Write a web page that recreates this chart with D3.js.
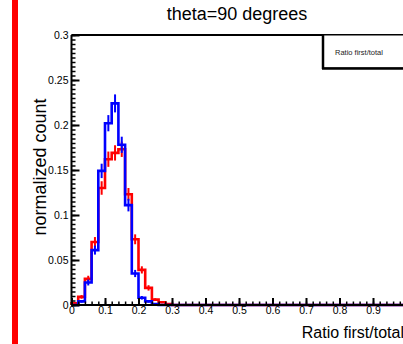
<!DOCTYPE html>
<meta charset="utf-8">
<style>
body { margin: 0; background: #fff; }
svg { display: block; font-family: "Liberation Sans", Arial, sans-serif; }
.axis path, .axis line { stroke: #000; stroke-width: 2px; }
.axis text { font-size: 10.5px; fill: #000; }
.minor line { stroke: #000; stroke-width: 1.5px; }
.hist { fill: none; stroke-width: 2.6px; }
.err { stroke-width: 2px; }
</style>
<body>
<script src="https://cdn.jsdelivr.net/npm/d3@7"></script>
<script>

// histogram: 50 bins on [0,1]
var binEdges = d3.range(0, 51).map(function(i) { return i / 50; });

var redVals = [0.002, 0.009, 0.029, 0.070, 0.130, 0.162, 0.169, 0.173, 0.123, 0.073,
               0.039, 0.019, 0.006, 0.003, 0.001, 0, 0, 0, 0, 0,
               0, 0, 0, 0, 0, 0, 0, 0, 0, 0,
               0, 0, 0, 0, 0, 0, 0, 0, 0, 0,
               0, 0, 0, 0, 0, 0, 0, 0, 0, 0];
var redErr  = [0.001, 0.002, 0.0035, 0.0055, 0.0075, 0.0085, 0.0085, 0.0085, 0.007, 0.0055,
               0.004, 0.003, 0.0015, 0.001, 0.0007];

var blueVals = [0, 0.004, 0.025, 0.061, 0.149, 0.202, 0.224, 0.178, 0.111, 0.035,
                0.008, 0.004, 0.001, 0, 0, 0, 0, 0, 0, 0,
                0, 0, 0, 0, 0, 0, 0, 0, 0, 0,
                0, 0, 0, 0, 0, 0, 0, 0, 0, 0,
                0, 0, 0, 0, 0, 0, 0, 0, 0, 0];
var blueErr  = [0, 0.0013, 0.0033, 0.005, 0.008, 0.009, 0.010, 0.009, 0.007, 0.004,
                0.002, 0.0013, 0.0007];

var xTicks = [0, 0.1, 0.2, 0.3, 0.4, 0.5, 0.6, 0.7, 0.8, 0.9];
var yTicks = [0, 0.05, 0.1, 0.15, 0.2, 0.25, 0.3];

var W = 403, H = 344;

var svg = d3.select("body").append("svg")
    .attr("width", W)
    .attr("height", H);

var x = d3.scaleLinear().domain([0, 1]).range([71.5, 406.5]);
var y = d3.scaleLinear().domain([0, 0.3]).range([305, 35]);

// red bar on the left edge
svg.append("rect")
    .attr("x", 12).attr("y", 0)
    .attr("width", 6).attr("height", H)
    .attr("fill", "#ff0000");

// title
svg.append("text")
    .attr("x", 237).attr("y", 20)
    .attr("text-anchor", "middle")
    .style("font-size", "18px")
    .text("theta=90 degrees");

// frame top line
svg.append("line")
    .attr("x1", x(0)).attr("x2", W)
    .attr("y1", y(0.3)).attr("y2", y(0.3))
    .attr("stroke", "#000").attr("stroke-width", 2);

// histograms as steps
function stepPath(vals) {
  var pts = [[x(0), y(0)]];
  vals.forEach(function(v, i) {
    pts.push([x(binEdges[i]), y(v)]);
    pts.push([x(binEdges[i + 1]), y(v)]);
  });
  return d3.line()(pts);
}

function drawHist(vals, errs, color) {
  svg.append("path")
      .attr("class", "hist")
      .attr("stroke", color)
      .attr("d", stepPath(vals));
  svg.selectAll(null)
      .data(errs.map(function(e, i) { return {i: i, v: vals[i], e: e}; })
                .filter(function(d) { return d.e > 0; }))
    .enter().append("line")
      .attr("class", "err")
      .attr("stroke", color)
      .attr("x1", function(d) { return x((binEdges[d.i] + binEdges[d.i + 1]) / 2); })
      .attr("x2", function(d) { return x((binEdges[d.i] + binEdges[d.i + 1]) / 2); })
      .attr("y1", function(d) { return y(d.v - d.e); })
      .attr("y2", function(d) { return y(d.v + d.e); });
}

drawHist(redVals, redErr, "#ff0000");
drawHist(blueVals, blueErr, "#0000ff");

// x axis: minor ticks then major ticks with labels
svg.append("g")
    .attr("class", "minor")
    .attr("transform", "translate(0," + y(0) + ")")
    .call(d3.axisBottom(x).tickValues(d3.range(0, 50).map(function(i) { return i / 50; }))
      .tickSize(-3.5).tickFormat(""))
    .select(".domain").remove();

svg.append("g")
    .attr("class", "axis")
    .attr("transform", "translate(0," + y(0) + ")")
    .call(d3.axisBottom(x).tickValues(xTicks).tickSize(-7).tickPadding(2)
      .tickFormat(function(d) { return d === 0 ? "0" : d3.format(".1f")(d); }))
    .call(function(g) { g.select(".domain").attr("d", "M" + x(0) + ",0H" + W); });

// y axis
svg.append("g")
    .attr("class", "minor")
    .attr("transform", "translate(" + x(0) + ",0)")
    .call(d3.axisLeft(y).tickValues(d3.range(0, 61).map(function(i) { return i * 0.005; }))
      .tickSize(-4).tickFormat(""))
    .select(".domain").remove();

svg.append("g")
    .attr("class", "axis")
    .attr("transform", "translate(" + x(0) + ",0)")
    .call(d3.axisLeft(y).tickValues(yTicks).tickSize(-8).tickPadding(3)
      .tickFormat(function(d) { return d === 0 ? "0" : String(+d.toFixed(2)); }))
    .call(function(g) { g.select(".domain").attr("d", "M0," + y(0) + "V" + y(0.3)); });

// axis titles
svg.append("text")
    .attr("transform", "translate(46," + 167 + ") rotate(-90)")
    .attr("text-anchor", "middle")
    .style("font-size", "18px")
    .text("normalized count");

svg.append("text")
    .attr("x", 404).attr("y", 338)
    .attr("text-anchor", "end")
    .style("font-size", "16px")
    .text("Ratio first/total");

// legend box
var leg = svg.append("g");
leg.append("rect")
    .attr("x", 323).attr("y", 35)
    .attr("width", 100).attr("height", 33)
    .attr("fill", "#fff").attr("stroke", "#000").attr("stroke-width", 1);
leg.append("line")
    .attr("x1", 323).attr("x2", 323).attr("y1", 35).attr("y2", 69)
    .attr("stroke", "#000").attr("stroke-width", 2.5);
leg.append("line")
    .attr("x1", 322).attr("x2", W).attr("y1", 68.5).attr("y2", 68.5)
    .attr("stroke", "#000").attr("stroke-width", 2.5);
leg.append("text")
    .attr("x", 335).attr("y", 55)
    .style("font-size", "7.5px")
    .attr("fill", "#222")
    .text("Ratio first/total");

</script>
</body>
